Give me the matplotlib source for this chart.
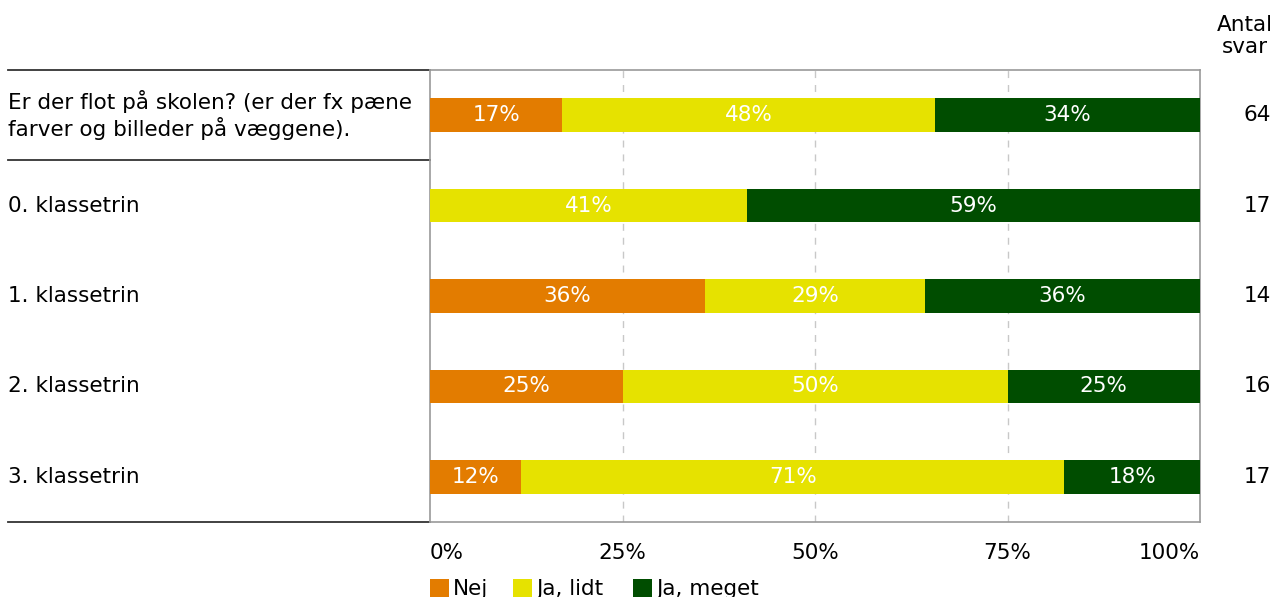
import numpy as np
import matplotlib
matplotlib.use("Agg")
import matplotlib.pyplot as plt
from matplotlib.lines import Line2D
from matplotlib.patches import Rectangle

# -----------------------------
# Data
# -----------------------------
categories = [
    "Er der flot på skolen? (er der fx pæne\nfarver og billeder på væggene).",
    "0. klassetrin",
    "1. klassetrin",
    "2. klassetrin",
    "3. klassetrin",
]
series_names = ["Nej", "Ja, lidt", "Ja, meget"]
nej = [17.2, 0.0, 35.7, 25.0, 11.8]
ja_lidt = [48.4, 41.2, 28.6, 50.0, 70.6]
ja_meget = [34.4, 58.8, 35.7, 25.0, 17.6]
antal_svar = [64, 17, 14, 16, 17]
x_ticks = [0, 25, 50, 75, 100]

colors = ["#E37C00", "#E6E200", "#004D00"]

# -----------------------------
# Plot
# -----------------------------
plt.rcParams["font.family"] = ["DejaVu Sans"]
fs = 15.5
W, H = 1276, 597

fig = plt.figure(figsize=(W / 100, H / 100), dpi=100)
ax = fig.add_axes([430 / W, 1 - 522 / H, 770 / W, 452 / H])

y = np.arange(len(categories))
left = np.zeros(len(categories))
for name, vals, col in zip(series_names, [nej, ja_lidt, ja_meget], colors):
    vals = np.array(vals)
    ax.barh(y, vals, left=left, height=0.37, color=col, zorder=3)
    for yi, l, v in zip(y, left, vals):
        if v > 0:
            ax.text(l + v / 2, yi, f"{v:.0f}%", ha="center", va="center",
                    color="white", fontsize=fs, zorder=4)
    left += vals

ax.set_xlim(0, 100)
ax.set_ylim(len(categories) - 0.5, -0.5)
ax.set_xticks(x_ticks)
ax.set_xticklabels([f"{t}%" for t in x_ticks], fontsize=fs)
ax.tick_params(axis="x", length=0, pad=15)
labels = ax.get_xticklabels()
labels[0].set_ha("left")
labels[-1].set_ha("right")
ax.set_yticks([])
for t in [25, 50, 75]:
    ax.axvline(t, color="#c8c8c8", linestyle=(0, (5, 5)), linewidth=1, zorder=1)
for s in ax.spines.values():
    s.set_color("#999999")
    s.set_linewidth(1.2)

# px -> data helpers
def px_x(px):
    return (px - 430) / 770 * 100

def px_y(py):
    return (py - 70) / 90 - 0.5

# category labels, counts and separator lines
for yi, cat in zip(y, categories):
    ax.text(px_x(8), yi, cat, ha="left", va="center", fontsize=fs,
            clip_on=False, linespacing=1.2)
    ax.text(px_x(1257), yi, str(antal_svar[yi]), ha="center", va="center",
            fontsize=fs, clip_on=False)

for yl in [-0.5, 0.5, len(categories) - 0.5]:
    ax.add_line(Line2D([px_x(8), 0], [yl, yl], color="#333333", linewidth=1.3,
                       clip_on=False))

ax.text(px_x(1245), px_y(36), "Antal\nsvar", ha="center", va="center",
        fontsize=fs, clip_on=False, linespacing=1.15)

# legend drawn by hand at bottom
leg_x = [430, 513, 633]
for px, name, col in zip(leg_x, series_names, colors):
    ax.add_patch(Rectangle((px_x(px), px_y(577)), px_x(px + 19) - px_x(px),
                           px_y(596) - px_y(577), facecolor=col,
                           clip_on=False))
    ax.text(px_x(px + 23), px_y(587), name, ha="left", va="center",
            fontsize=fs, clip_on=False)

fig.savefig("out.png", dpi=100)
